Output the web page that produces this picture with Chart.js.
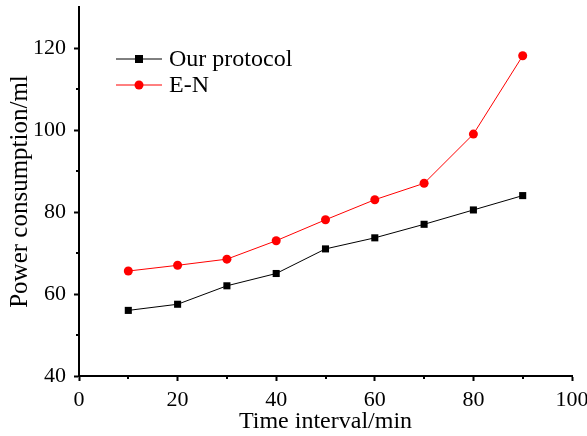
<!DOCTYPE html>
<html lang="en">
  <head>
    <meta charset="UTF-8" />
    <title>Power consumption</title>
    <script src="https://cdn.jsdelivr.net/npm/chart.js"></script>
    <style>
      html, body { margin: 0; padding: 0; background: #fff; }
      #wrap { width: 587px; height: 436px; }
    </style>
  </head>
  <body>
    <div id="wrap"><canvas id="power-chart" width="587" height="436"></canvas></div>

    <script>
      // data
      const timeIntervals = [10, 20, 30, 40, 50, 60, 70, 80, 90];
      const ourProtocol = [56, 57.5, 62, 65, 71, 73.7, 77, 80.5, 84];
      const eN = [65.6, 67, 68.5, 73, 78.1, 83, 87, 99, 118.1];
      const seriesNames = ["Our protocol", "E-N"];

      const serif = "'Liberation Serif', 'Times New Roman', serif";

      const toPoints = (ys) => timeIntervals.map((x, i) => ({ x: x, y: ys[i] }));

      // minor ticks (half length) between the labelled ones
      const minorTicks = {
        id: "minorTicks",
        afterDraw(chart) {
          const { ctx, scales } = chart;
          const xs = scales.x, ys = scales.y;
          ctx.save();
          ctx.strokeStyle = "#000";
          ctx.lineWidth = 2;
          ctx.beginPath();
          for (let v = 10; v < 100; v += 20) {
            const px = Math.round(xs.getPixelForValue(v));
            ctx.moveTo(px, xs.top);
            ctx.lineTo(px, xs.top + 3);
          }
          for (let v = 50; v < 130; v += 20) {
            const py = Math.round(ys.getPixelForValue(v));
            ctx.moveTo(ys.right, py);
            ctx.lineTo(ys.right - 3, py);
          }
          ctx.stroke();
          ctx.restore();
        },
      };

      // legend drawn inside the plot, line + marker like the original
      const insideLegend = {
        id: "insideLegend",
        afterDraw(chart) {
          const { ctx } = chart;
          const rows = [
            { name: seriesNames[0], color: "#000", y: 59, shape: "square" },
            { name: seriesNames[1], color: "#ff0000", y: 85, shape: "circle" },
          ];
          ctx.save();
          ctx.font = "24px " + serif;
          ctx.textBaseline = "middle";
          rows.forEach((r) => {
            ctx.strokeStyle = r.color;
            ctx.lineWidth = 1;
            ctx.beginPath();
            ctx.moveTo(116, r.y);
            ctx.lineTo(162, r.y);
            ctx.stroke();
            ctx.fillStyle = r.color;
            if (r.shape === "square") {
              ctx.fillRect(135, r.y - 4, 8, 8);
            } else {
              ctx.beginPath();
              ctx.arc(139, r.y, 4.5, 0, Math.PI * 2);
              ctx.fill();
            }
            ctx.fillStyle = "#000";
            ctx.fillText(r.name, 169, r.y + 1);
          });
          ctx.restore();
        },
      };

      new Chart(document.getElementById("power-chart"), {
        type: "line",
        data: {
          datasets: [
            {
              label: seriesNames[0],
              data: toPoints(ourProtocol),
              borderColor: "#000",
              backgroundColor: "#000",
              borderWidth: 1,
              pointStyle: "rect",
              pointRadius: 5,
              pointBorderWidth: 0,
              tension: 0,
            },
            {
              label: seriesNames[1],
              data: toPoints(eN),
              borderColor: "#ff0000",
              backgroundColor: "#ff0000",
              borderWidth: 1,
              pointStyle: "circle",
              pointRadius: 4.5,
              pointBorderWidth: 0,
              tension: 0,
            },
          ],
        },
        options: {
          responsive: false,
          animation: false,
          layout: { padding: { top: 7, right: 15, left: 0, bottom: 0 } },
          plugins: { legend: { display: false }, tooltip: { enabled: false } },
          scales: {
            x: {
              type: "linear",
              min: 0,
              max: 100,
              afterFit: (s) => {
                s.height = 60;
                s.paddingLeft = 0;
                s.paddingRight = 0;
              },
              ticks: {
                stepSize: 20,
                color: "#000",
                font: { family: serif, size: 22 },
                padding: 6,
                maxRotation: 0,
              },
              grid: {
                drawOnChartArea: false,
                tickLength: 5,
                tickWidth: 2,
                tickColor: "#000",
              },
              border: { color: "#000", width: 2 },
              title: {
                display: true,
                text: "Time interval/min",
                color: "#000",
                font: { family: serif, size: 24 },
                padding: { top: 0, bottom: 0 },
              },
            },
            y: {
              type: "linear",
              min: 40,
              max: 130,
              afterFit: (s) => {
                s.width = 79;
                s.paddingTop = 0;
                s.paddingBottom = 0;
              },
              ticks: {
                stepSize: 20,
                color: "#000",
                font: { family: serif, size: 22 },
                padding: 8,
              },
              afterBuildTicks: (s) => {
                s.ticks = [40, 60, 80, 100, 120].map((v) => ({ value: v }));
              },
              grid: {
                drawOnChartArea: false,
                tickLength: 5,
                tickWidth: 2,
                tickColor: "#000",
              },
              border: { color: "#000", width: 2 },
              title: {
                display: true,
                text: "Power consumption/ml",
                color: "#000",
                font: { family: serif, size: 25 },
                padding: { top: 5, bottom: 0 },
              },
            },
          },
        },
        plugins: [minorTicks, insideLegend],
      });
    </script>
  </body>
</html>
